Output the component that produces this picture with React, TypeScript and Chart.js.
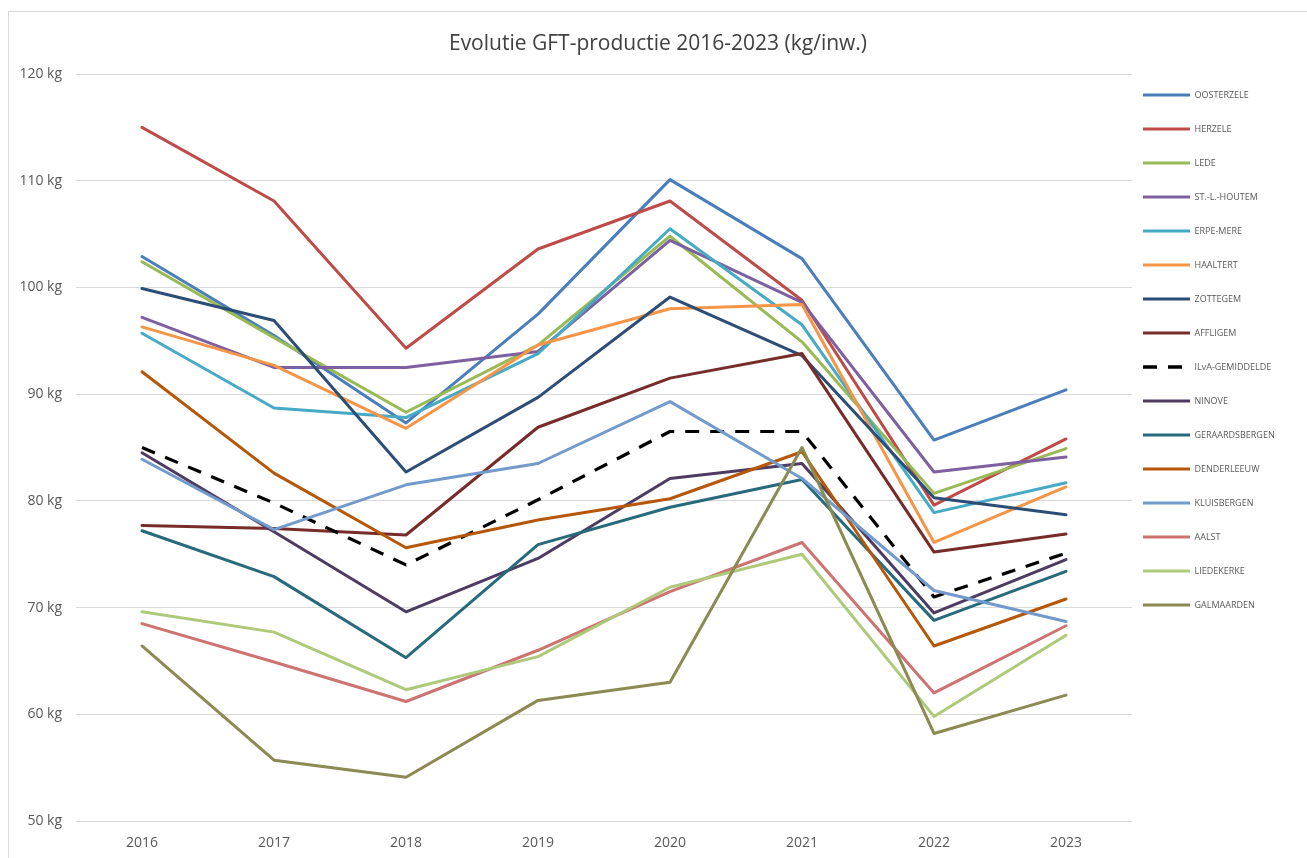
import React, { useEffect, useRef } from "react";
import { Chart, registerables } from "chart.js";

Chart.register(...registerables);

const TITLE = "Evolutie GFT-productie 2016-2023 (kg/inw.)";
const YEARS = ["2016", "2017", "2018", "2019", "2020", "2021", "2022", "2023"];
const Y_MIN = 50;
const Y_MAX = 120;
const Y_STEP = 10;
const UNIT = " kg";

const SERIES_NAMES = [
  "OOSTERZELE",
  "HERZELE",
  "LEDE",
  "ST.-L.-HOUTEM",
  "ERPE-MERE",
  "HAALTERT",
  "ZOTTEGEM",
  "AFFLIGEM",
  "ILvA-GEMIDDELDE",
  "NINOVE",
  "GERAARDSBERGEN",
  "DENDERLEEUW",
  "KLUISBERGEN",
  "AALST",
  "LIEDEKERKE",
  "GALMAARDEN",
];

const OOSTERZELE = [102.9, 95.5, 87.3, 97.5, 110.1, 102.7, 85.7, 90.4];
const HERZELE = [115.0, 108.1, 94.3, 103.6, 108.1, 98.8, 79.6, 85.8];
const LEDE = [102.4, 95.3, 88.3, 94.6, 104.8, 94.9, 80.7, 84.9];
const ST_L_HOUTEM = [97.2, 92.5, 92.5, 94.0, 104.4, 98.6, 82.7, 84.1];
const ERPE_MERE = [95.7, 88.7, 87.8, 93.8, 105.5, 96.5, 78.9, 81.7];
const HAALTERT = [96.3, 92.7, 86.8, 94.6, 98.0, 98.4, 76.1, 81.3];
const ZOTTEGEM = [99.9, 96.9, 82.7, 89.7, 99.1, 93.6, 80.3, 78.7];
const AFFLIGEM = [77.7, 77.4, 76.8, 86.9, 91.5, 93.8, 75.2, 76.9];
const ILVA_GEMIDDELDE = [85.0, 79.8, 74.0, 80.1, 86.5, 86.5, 71.0, 75.1];
const NINOVE = [84.5, 77.1, 69.6, 74.6, 82.1, 83.5, 69.5, 74.5];
const GERAARDSBERGEN = [77.2, 72.9, 65.3, 75.9, 79.4, 82.0, 68.8, 73.4];
const DENDERLEEUW = [92.1, 82.6, 75.6, 78.2, 80.2, 84.6, 66.4, 70.8];
const KLUISBERGEN = [83.9, 77.3, 81.5, 83.5, 89.3, 82.1, 71.6, 68.7];
const AALST = [68.5, 64.9, 61.2, 66.0, 71.5, 76.1, 62.0, 68.3];
const LIEDEKERKE = [69.6, 67.7, 62.3, 65.4, 71.9, 75.0, 59.8, 67.4];
const GALMAARDEN = [66.4, 55.7, 54.1, 61.3, 63.0, 85.0, 58.2, 61.8];

const SERIES_VALUES = [
  OOSTERZELE,
  HERZELE,
  LEDE,
  ST_L_HOUTEM,
  ERPE_MERE,
  HAALTERT,
  ZOTTEGEM,
  AFFLIGEM,
  ILVA_GEMIDDELDE,
  NINOVE,
  GERAARDSBERGEN,
  DENDERLEEUW,
  KLUISBERGEN,
  AALST,
  LIEDEKERKE,
  GALMAARDEN,
];

const SERIES_COLORS = [
  "#4A7EBB",
  "#BE4B48",
  "#98B954",
  "#7D60A0",
  "#46AAC5",
  "#F69546",
  "#2C4D75",
  "#772C2A",
  "#000000",
  "#4D3B62",
  "#276A7C",
  "#B65708",
  "#729ACA",
  "#CD7371",
  "#AFC97A",
  "#8A8A52",
];

const DASHED_SERIES = "ILvA-GEMIDDELDE";
const DASH = [14, 11];

const CANVAS_W = 1298;
const CANVAS_H = 846;
const AREA_LEFT = 67;
const AREA_RIGHT = 1123;
const AREA_BOTTOM = 809;
const LEGEND_PAD = 25;
const LEGEND_FONT = 9;
const LEGEND_GAP = 11;
const LEGEND_FIRST_Y = 83;

const FONT = "'Open Sans', 'DejaVu Sans', sans-serif";

export default function App() {
  const canvasRef = useRef<HTMLCanvasElement | null>(null);

  useEffect(() => {
    const canvas = canvasRef.current;
    if (!canvas) return;
    document.body.style.overflow = "hidden";

    const layoutPlugin = {
      id: "layoutTweaks",
      beforeLayout(chart: any) {
        const legend = chart.legend;
        if (legend && !legend.__patched) {
          const orig = legend.fit;
          legend.fit = function () {
            orig.call(this);
            this.width = CANVAS_W - AREA_RIGHT;
          };
          legend.__patched = true;
        }
      },
      afterLayout(chart: any) {
        const legend = chart.legend;
        if (!legend) return;
        const left = chart.chartArea.right + LEGEND_GAP - LEGEND_PAD;
        const top = LEGEND_FIRST_Y - LEGEND_FONT / 2 - LEGEND_PAD;
        const w = legend.width;
        const h = legend.height;
        legend.left = left;
        legend.right = left + w;
        legend.top = top;
        legend.bottom = top + h;
      },
    };

    const datasets = SERIES_NAMES.map((name, i) => {
      const dashed = name === DASHED_SERIES;
      return {
        label: name,
        data: SERIES_VALUES[i],
        borderColor: SERIES_COLORS[i],
        backgroundColor: SERIES_COLORS[i],
        borderWidth: dashed ? 3.2 : 3,
        borderDash: dashed ? DASH : [],
        borderCapStyle: dashed ? "butt" : "round",
        borderJoinStyle: "round",
        pointRadius: 0,
        pointHoverRadius: 0,
        pointStyle: "line",
        tension: 0,
        fill: false,
        order: -i,
      };
    });

    const defaultLabels = (Chart as any).defaults.plugins.legend.labels.generateLabels;

    const chart = new Chart(canvas, {
      type: "line",
      data: { labels: YEARS, datasets: datasets as any },
      plugins: [layoutPlugin],
      options: {
        animation: false,
        responsive: false,
        maintainAspectRatio: false,
        devicePixelRatio: 1,
        layout: { padding: 0 },
        plugins: {
          title: {
            display: true,
            text: TITLE,
            color: "#404040",
            font: { family: FONT, size: 21, weight: "normal" },
            padding: { top: 19.4, bottom: 17.4 },
          },
          legend: {
            display: true,
            position: "right",
            align: "start",
            labels: {
              usePointStyle: true,
              pointStyle: "line",
              pointStyleWidth: 47,
              padding: LEGEND_PAD,
              color: "#595959",
              font: { family: FONT, size: LEGEND_FONT },
              sort: (a: any, b: any) => a.datasetIndex - b.datasetIndex,
              generateLabels: (c: any) =>
                defaultLabels(c).map((item: any) => {
                  const ds = c.data.datasets[item.datasetIndex];
                  const dashed = ds.label === DASHED_SERIES;
                  return {
                    ...item,
                    lineWidth: dashed ? 3.4 : 3,
                    lineDash: dashed ? DASH : [],
                    lineCap: "butt",
                  };
                }),
            },
          },
          tooltip: { enabled: false },
        },
        scales: {
          x: {
            type: "category",
            offset: true,
            grid: { display: false, drawTicks: false },
            border: { display: false },
            ticks: {
              color: "#595959",
              font: { family: FONT, size: 14 },
              padding: 14,
              maxRotation: 0,
            },
            afterFit: (scale: any) => {
              scale.height = CANVAS_H - AREA_BOTTOM;
            },
          },
          y: {
            type: "linear",
            min: Y_MIN,
            max: Y_MAX,
            grid: { color: "#d9d9d9", lineWidth: 1, drawTicks: false },
            border: { display: false },
            ticks: {
              stepSize: Y_STEP,
              color: "#595959",
              font: { family: FONT, size: 14 },
              padding: 14,
              callback: (v: any) => `${v}${UNIT}`,
            },
            afterFit: (scale: any) => {
              scale.width = AREA_LEFT;
            },
          },
        },
      } as any,
    });

    return () => {
      chart.destroy();
    };
  }, []);

  return (
    <div
      style={{
        position: "absolute",
        left: 8,
        top: 11,
        width: 1299,
        height: 847,
        borderLeft: "1px solid #d9d9d9",
        borderTop: "1px solid #d9d9d9",
        background: "#ffffff",
        overflow: "hidden",
      }}
    >
      <canvas
        ref={canvasRef}
        width={CANVAS_W}
        height={CANVAS_H}
        style={{ display: "block", width: CANVAS_W, height: CANVAS_H }}
      />
    </div>
  );
}
